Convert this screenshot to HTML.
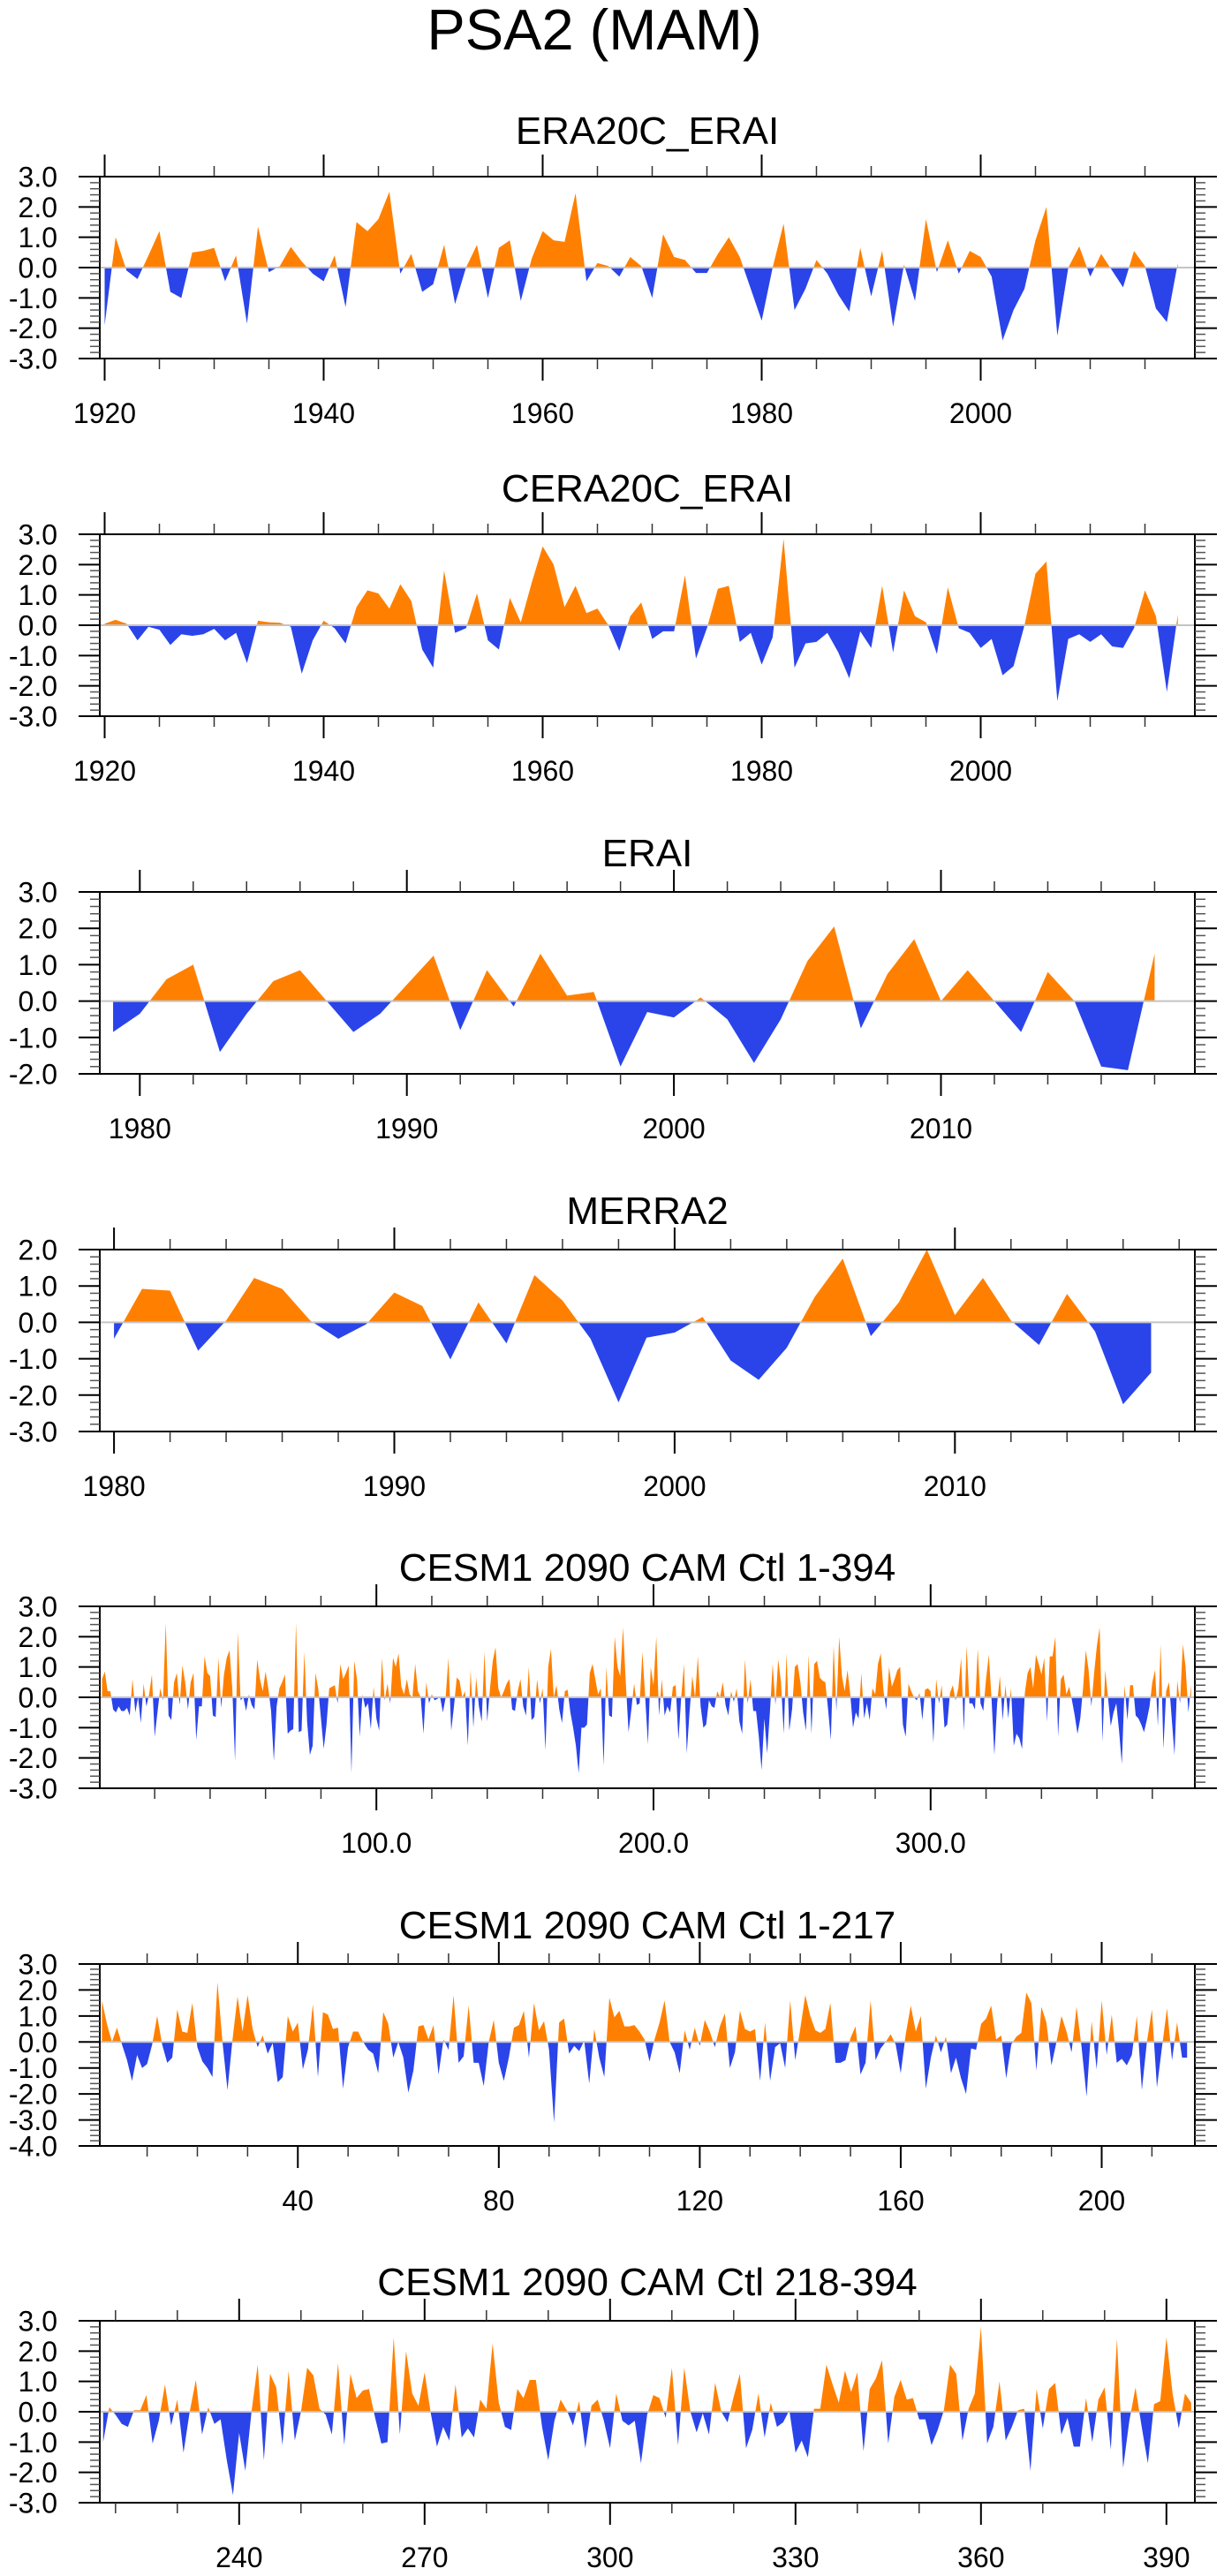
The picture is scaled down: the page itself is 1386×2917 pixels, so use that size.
<!DOCTYPE html>
<html><head><meta charset="utf-8"><title>PSA2 (MAM)</title>
<style>
html,body{margin:0;padding:0;background:#fff;}
svg{display:block;}
text{font-family:"Liberation Sans",Arial,sans-serif;fill:#000;}
</style></head>
<body>
<svg id="fig" xmlns="http://www.w3.org/2000/svg" width="1386" height="2917" viewBox="0 0 1386 2917">
<text x="673" y="56" font-size="65" text-anchor="middle">PSA2 (MAM)</text>
</svg>
<script>
// ---------- data ----------
const era20cVals = [
-1.9,1.0,-0.1,-0.38,0.4,1.2,-0.8,-1.0,0.5,0.55,
0.65,-0.45,0.4,-1.85,1.35,-0.15,0.05,0.68,0.2,-0.2,
-0.45,0.4,-1.3,1.5,1.2,1.6,2.5,-0.2,0.45,-0.8,
-0.55,0.75,-1.2,0.0,0.75,-1.0,0.65,0.9,-1.1,0.3,
1.2,0.9,0.85,2.45,-0.45,0.15,0.05,-0.3,0.35,0.05,
-1.0,1.1,0.35,0.25,-0.18,-0.18,0.45,1.0,0.35,-0.7,
-1.75,0.0,1.45,-1.4,-0.7,0.25,-0.2,-0.9,-1.45,0.65,
-0.95,0.55,-1.95,0.1,-1.1,1.6,-0.15,0.9,-0.2,0.55,
0.35,-0.3,-2.4,-1.4,-0.7,0.9,2.0,-2.25,0.0,0.7,
-0.3,0.45,-0.1,-0.65,0.55,0.05,-1.35,-1.8,0.15];
const cera20cVals = [
0.05,0.18,0.05,-0.5,-0.05,-0.15,-0.65,-0.3,-0.35,-0.3,
-0.12,-0.5,-0.25,-1.25,0.15,0.1,0.08,-0.05,-1.6,-0.5,
0.15,-0.1,-0.6,0.6,1.15,1.05,0.55,1.35,0.8,-0.8,
-1.4,1.8,-0.25,-0.1,1.05,-0.5,-0.8,0.9,0.1,1.4,
2.6,2.0,0.6,1.3,0.4,0.55,0.0,-0.85,0.3,0.75,
-0.45,-0.2,-0.2,1.65,-1.1,-0.1,1.2,1.3,-0.55,-0.25,
-1.3,-0.4,2.85,-1.4,-0.6,-0.55,-0.25,-0.9,-1.75,-0.2,
-0.75,1.3,-0.9,1.15,0.3,0.1,-0.95,1.25,-0.1,-0.25,
-0.75,-0.45,-1.65,-1.35,0.0,1.7,2.1,-2.5,-0.45,-0.3,
-0.55,-0.3,-0.7,-0.75,-0.1,1.15,0.3,-2.2,0.35];
const eraiVals = [
-0.85,-0.35,0.6,1.0,-1.4,-0.35,0.55,0.85,0.0,-0.85,
-0.35,0.45,1.25,-0.8,0.85,-0.15,1.3,0.15,0.25,-1.8,
-0.3,-0.45,0.1,-0.5,-1.7,-0.5,1.1,2.05,-0.75,0.75,
1.7,0.0,0.85,0.0,-0.85,0.8,0.0,-1.8,-1.9,1.3];
const merraVals = [
-0.45,0.92,0.87,-0.78,0.05,1.22,0.92,0.05,-0.45,-0.05,
0.82,0.45,-1.02,0.55,-0.58,1.3,0.6,-0.45,-2.2,-0.42,
-0.28,0.15,-1.05,-1.58,-0.7,0.7,1.75,-0.38,0.55,2.0,
0.2,1.22,0.05,-0.62,0.78,-0.25,-2.25,-1.38];
const cesmAllVals = [
0.6,0.85,0.2,0.2,-0.4,-0.5,-0.3,-0.45,-0.45,-0.35,
-0.6,0.6,-0.5,0.0,-0.85,0.45,-0.3,0.1,0.75,-1.3,
-0.5,0.3,-0.1,2.45,-0.6,-0.75,0.5,0.8,-0.25,1.05,
0.5,-0.4,0.5,0.8,-1.4,-0.3,-0.3,1.35,0.8,0.7,
-0.6,-0.65,1.3,-0.35,0.75,1.3,1.55,0.3,-2.1,2.15,
-0.1,0.0,-0.45,0.1,-0.25,-0.4,1.25,0.6,0.2,0.85,
0.3,-0.45,-2.1,-0.3,0.3,0.5,0.75,-1.2,-1.1,-1.05,
2.45,-1.15,-1.1,1.5,-0.8,-1.9,-1.6,0.8,0.3,-0.7,
-1.7,-0.9,0.3,0.35,0.4,-0.2,1.1,0.6,0.8,1.05,
-2.5,1.2,0.6,-1.3,0.1,-0.35,-0.2,-1.05,0.35,-0.7,
-1.1,1.3,-0.1,0.45,-0.2,1.3,1.0,1.45,0.35,0.1,
0.6,0.1,0.0,1.1,0.2,0.0,-1.2,0.5,-0.2,0.1,
-0.1,-0.05,0.0,-0.5,0.0,1.3,-1.1,-0.3,0.65,0.55,
0.0,0.2,-1.6,0.9,-1.0,0.65,-0.3,-0.8,1.5,-0.8,
0.3,1.2,1.65,0.3,0.0,0.2,0.45,0.6,-0.4,-0.45,
0.2,0.6,-0.3,-0.6,1.0,-0.75,-0.65,0.6,-0.2,0.3,
-1.75,1.0,1.6,0.0,0.4,-0.4,-0.85,0.2,0.25,-0.5,
-1.0,-1.6,-2.5,-1.0,-1.0,-0.9,0.8,1.1,0.6,0.1,
0.3,-2.25,1.0,-0.6,-0.65,2.0,1.0,0.7,2.3,0.5,
-1.15,-0.4,0.45,-0.25,-0.2,1.5,0.0,-1.55,1.0,0.4,
2.0,-0.6,0.6,-0.6,-0.3,-0.5,0.35,0.4,-1.4,0.0,
1.1,-1.85,-0.5,0.7,0.0,1.35,-0.3,-1.0,-0.9,-0.1,
-0.3,-0.35,0.2,0.0,0.5,-0.25,-0.6,0.2,-0.15,0.3,
-0.8,-1.2,1.25,-0.2,0.6,-0.45,-0.45,-1.3,-2.4,-0.7,
-1.85,-0.5,1.1,-0.25,1.25,0.5,-1.2,1.45,-1.1,-0.4,
1.0,1.1,0.5,-0.5,-1.1,1.4,-1.2,1.1,1.2,0.65,
0.55,0.5,-0.4,-1.4,1.7,-0.45,2.0,0.7,0.2,0.9,
0.1,-1.0,-0.5,-0.7,0.8,-0.7,-0.2,-0.75,0.3,0.1,
1.1,1.45,0.2,-0.4,1.0,0.35,0.6,0.9,1.0,-0.9,
-1.3,0.45,0.2,0.0,-0.1,0.15,-0.75,0.25,0.3,0.2,
-1.5,0.6,-0.2,0.4,-1.0,-0.9,0.15,0.4,-0.1,0.3,
1.3,-1.1,1.7,-0.2,-0.2,-0.4,1.6,-0.2,-0.45,0.6,
1.4,-0.1,-1.9,-0.2,0.7,-0.75,0.4,-0.7,0.3,-1.6,
-1.2,-1.35,-1.7,0.15,0.8,1.0,0.3,1.4,1.1,0.75,
1.3,-0.8,1.35,1.35,2.0,-1.3,0.6,0.75,0.1,0.35,
-0.1,-0.6,-1.2,-0.7,0.3,1.55,0.9,-0.3,0.8,1.7,
2.3,-1.45,0.9,0.0,-0.95,-0.5,-0.2,-1.1,-2.2,0.4,
-0.75,0.4,0.4,-0.6,-0.7,-0.9,-1.15,-0.75,-0.3,0.5,
0.9,-0.95,1.75,-1.7,0.2,0.5,-0.7,-1.9,0.55,-0.2,
1.75,1.0,-0.5,0.4];
const cesmAVals = [
1.6,0.7,0.0,0.55,-0.1,-0.7,-1.5,-0.5,-1.0,-0.85,
-0.1,1.0,-0.1,-0.8,-0.6,1.25,0.4,0.35,1.5,-0.2,
-0.75,-1.0,-1.35,2.3,0.0,-1.85,0.1,1.75,0.4,1.8,
0.5,-0.2,0.25,-0.45,-0.05,-1.55,-1.35,1.0,0.4,0.75,
-1.05,-0.3,1.45,-1.35,1.15,1.05,0.5,0.55,-1.8,-0.2,
0.4,0.4,0.0,-0.3,-0.45,-1.2,1.15,0.7,-0.6,0.0,
-0.6,-1.95,-1.1,0.6,0.65,0.1,0.65,-1.25,0.1,-0.3,
1.8,-0.8,-0.55,1.4,-0.8,-0.8,-1.7,0.0,0.85,-0.8,
-1.5,-0.6,0.55,0.65,1.2,-0.6,1.5,0.45,0.8,-0.3,
-3.1,0.75,0.9,-0.45,-0.15,-0.35,0.05,-1.6,0.5,-0.6,
-1.35,1.7,0.95,1.2,0.6,0.6,0.65,0.4,0.1,-0.75,
0.1,0.75,1.6,0.0,-0.4,-1.2,0.45,-0.3,0.55,-0.15,
0.85,0.4,-0.2,0.6,1.1,-1.0,-0.4,1.2,0.5,0.4,
0.5,-1.5,0.75,-1.5,-0.2,-0.05,-1.0,1.6,-0.7,0.5,
1.8,1.0,0.45,0.35,0.5,1.5,-0.8,-0.8,-0.7,0.15,
0.6,-1.25,-0.8,1.6,-0.7,-0.25,0.0,0.3,-0.1,-1.2,
0.3,1.4,0.4,1.0,-1.8,-0.6,0.25,-0.4,0.2,-1.2,
-0.6,-1.4,-2.0,-0.25,-0.3,0.7,0.9,1.4,0.1,0.25,
-1.4,-0.1,0.2,0.35,1.9,1.5,-1.1,1.35,0.75,-0.9,
0.0,1.0,0.4,-0.4,1.35,-0.2,-2.1,0.8,-1.05,1.6,
-0.5,1.05,-0.8,-0.65,-0.9,-0.5,1.0,-1.85,0.0,1.25,
-1.75,-0.2,1.3,-0.7,0.75,-0.6,-0.6];
const cesmBVals = [
-1.0,0.15,-0.1,-0.4,-0.5,0.05,0.05,0.55,-1.05,-0.3,
0.9,-0.45,0.4,-1.35,0.0,1.05,-0.75,0.15,-0.4,-0.25,
-1.6,-2.75,-0.7,-1.95,0.0,1.55,-1.6,1.25,0.8,-1.1,
1.35,-0.95,0.0,1.45,1.2,0.1,-0.1,-0.75,1.6,-1.1,
1.25,0.45,0.7,0.75,-0.2,-1.05,-1.0,2.45,-0.75,2.0,
0.6,0.2,1.3,-0.05,-1.15,-0.5,-0.95,0.9,-0.85,-0.55,
-0.85,0.4,0.1,2.25,0.3,-0.5,-0.6,0.75,0.45,1.05,
1.05,-0.5,-1.6,-0.3,0.4,0.05,-0.45,0.35,-1.2,0.2,
0.4,-0.3,-1.2,0.6,-0.3,-0.45,-0.3,-1.7,-0.1,0.55,
0.45,-0.2,1.45,-1.1,1.45,0.0,-0.68,-0.05,-0.75,0.95,
0.0,-0.35,0.5,1.25,-1.2,-0.6,0.6,-0.85,0.3,-0.5,
-0.35,0.05,-1.35,-0.95,-1.5,0.1,0.1,1.55,0.9,0.3,
1.35,0.65,1.3,-1.3,0.75,1.1,1.7,-1.05,0.5,1.05,
0.4,0.45,-0.25,-0.25,-1.1,-0.6,0.05,1.55,1.25,-0.95,
0.1,0.6,2.8,-1.05,-0.5,1.0,-0.95,-0.5,0.05,0.1,
-1.95,0.75,-0.55,0.75,0.95,-0.75,-0.2,-1.15,-1.15,0.45,
-1.0,0.4,0.8,-1.25,2.4,-1.85,-0.3,0.8,-0.5,-1.7,
0.25,0.35,2.45,0.6,-0.55,0.6,0.3];

const yearTickLabels = ["1920","1940","1960","1980","2000"];
const eraiTickLabels = ["1980","1990","2000","2010"];
const cesmAllTickLabels = ["100.0","200.0","300.0"];
const cesmATickLabels = ["40","80","120","160","200"];
const cesmBTickLabels = ["240","270","300","330","360","390"];

// ---------- drawing ----------
const NS = "http://www.w3.org/2000/svg";
const svg = document.getElementById('fig');
const L = 113, R = 1353, H = 206;
function mk(tag, attrs, parent){
  const e = document.createElementNS(NS, tag);
  for (const k in attrs) e.setAttribute(k, attrs[k]);
  (parent||svg).appendChild(e);
  return e;
}
function range(a,b,s){const r=[];for(let v=a;v<=b+1e-9;v+=s)r.push(+v.toFixed(6));return r;}

function drawPanel(p, idx){
  const g = mk('g', {});
  
  
  const top = p.top, bot = p.top + H;
  const xs = v => p.x0 + p.dx * (v - p.v0);
  const ys = v => top + (p.ymax - v) / (p.ymax - p.ymin) * H;
  const zy = ys(0);
  const t = mk('text', {x:(L+R)/2, y: top - p.tdy + 16, 'font-size':44, 'text-anchor':'middle'}, g);
  t.textContent = p.title;
  
  
  let d = 'M' + xs(p.start).toFixed(2) + ',' + zy.toFixed(2);
  p.vals.forEach((v,i) => { d += ' L' + xs(p.start + i).toFixed(2) + ',' + ys(v).toFixed(2); });
  d += ' L' + xs(p.start + p.vals.length - 1).toFixed(2) + ',' + zy.toFixed(2) + 'Z';
  const cu = mk('clipPath', {id:'cu'+idx}, g);
  mk('rect', {x:L, y:top, width:R-L, height:zy-top}, cu);
  const cd = mk('clipPath', {id:'cd'+idx}, g);
  mk('rect', {x:L, y:zy, width:R-L, height:bot-zy}, cd);
  const pos = mk('path', {d:d, fill:'#ff8000', 'clip-path':'url(#cu'+idx+')'}, g);
  
  
  const neg = mk('path', {d:d, fill:'#2a44ea', 'clip-path':'url(#cd'+idx+')'}, g);
  
  
  const z = mk('line', {x1:L, x2:R, y1:zy, y2:zy, stroke:'#c4c4c4', 'stroke-width':2}, g);
  
  
  const f = mk('rect', {x:L, y:top, width:R-L, height:H, fill:'none', stroke:'#000', 'stroke-width':2}, g);
  
  
  p.xMinor.forEach(v => {
    const x = xs(v); if (x < L-1 || x > R+1) return;
    mk('line', {x1:x,x2:x,y1:top,y2:top-12,stroke:'#333','stroke-width':1.5}, g);
    mk('line', {x1:x,x2:x,y1:bot,y2:bot+12,stroke:'#333','stroke-width':1.5}, g);
  });
  p.xMajor.forEach((v,i) => {
    const x = xs(v);
    mk('line', {x1:x,x2:x,y1:top,y2:top-25,stroke:'#000','stroke-width':2}, g);
    mk('line', {x1:x,x2:x,y1:bot,y2:bot+25,stroke:'#000','stroke-width':2}, g);
    const lt = mk('text', {x:x, y:bot+73, 'font-size':32, 'text-anchor':'middle'}, g);
    lt.textContent = p.xLabels[i];
    
    
  });
  range(p.ymin, p.ymax, 0.2).forEach(v => {
    const y = ys(v);
    mk('line', {x1:L,x2:L-11,y1:y,y2:y,stroke:'#555','stroke-width':1.5}, g);
    mk('line', {x1:R,x2:R+12,y1:y,y2:y,stroke:'#555','stroke-width':1.5}, g);
  });
  range(p.ymin, p.ymax, 1).forEach(v => {
    const y = ys(v);
    mk('line', {x1:L,x2:L-24,y1:y,y2:y,stroke:'#000','stroke-width':2}, g);
    mk('line', {x1:R,x2:R+25,y1:y,y2:y,stroke:'#000','stroke-width':2}, g);
    const lt = mk('text', {x:65, y:y+11.5, 'font-size':32, 'text-anchor':'end'}, g);
    lt.textContent = v.toFixed(1);
    
    
  });
}

const panels = [
 {name:'era20c-erai', title:'ERA20C_ERAI', top:200, tdy:53, ymin:-3, ymax:3, vals:era20cVals, start:1920,
  x0:118.5, v0:1920, dx:12.4, xMajor:[1920,1940,1960,1980,2000], xMinor:range(1920,2020,5), xLabels:yearTickLabels},
 {name:'cera20c-erai', title:'CERA20C_ERAI', top:605, tdy:53, ymin:-3, ymax:3, vals:cera20cVals, start:1920,
  x0:118.5, v0:1920, dx:12.4, xMajor:[1920,1940,1960,1980,2000], xMinor:range(1920,2020,5), xLabels:yearTickLabels},
 {name:'erai', title:'ERAI', top:1010, tdy:45, ymin:-2, ymax:3, vals:eraiVals, start:1979,
  x0:158.3, v0:1980, dx:30.24, xMajor:[1980,1990,2000,2010], xMinor:range(1976,2020,2), xLabels:eraiTickLabels},
 {name:'merra2', title:'MERRA2', top:1415, tdy:45, ymin:-3, ymax:2, vals:merraVals, start:1980,
  x0:129.1, v0:1980, dx:31.74, xMajor:[1980,1990,2000,2010], xMinor:range(1980,2018,2), xLabels:eraiTickLabels},
 {name:'cesm-1-394', title:'CESM1 2090 CAM Ctl 1-394', top:1819, tdy:45, ymin:-3, ymax:3, vals:cesmAllVals, start:1,
  x0:112.4, v0:0, dx:3.138, xMajor:[100,200,300], xMinor:range(20,380,20), xLabels:cesmAllTickLabels},
 {name:'cesm-1-217', title:'CESM1 2090 CAM Ctl 1-217', top:2224, tdy:45, ymin:-4, ymax:3, vals:cesmAVals, start:1,
  x0:109.7, v0:0, dx:5.689, xMajor:[40,80,120,160,200], xMinor:range(10,210,10), xLabels:cesmATickLabels},
 {name:'cesm-218-394', title:'CESM1 2090 CAM Ctl 218-394', top:2628, tdy:45, ymin:-3, ymax:3, vals:cesmBVals, start:218,
  x0:270.8, v0:240, dx:7.0, xMajor:[240,270,300,330,360,390], xMinor:range(220,390,10), xLabels:cesmBTickLabels}
];
panels.forEach((p,i) => drawPanel(p,i));
</script>
</body></html>
